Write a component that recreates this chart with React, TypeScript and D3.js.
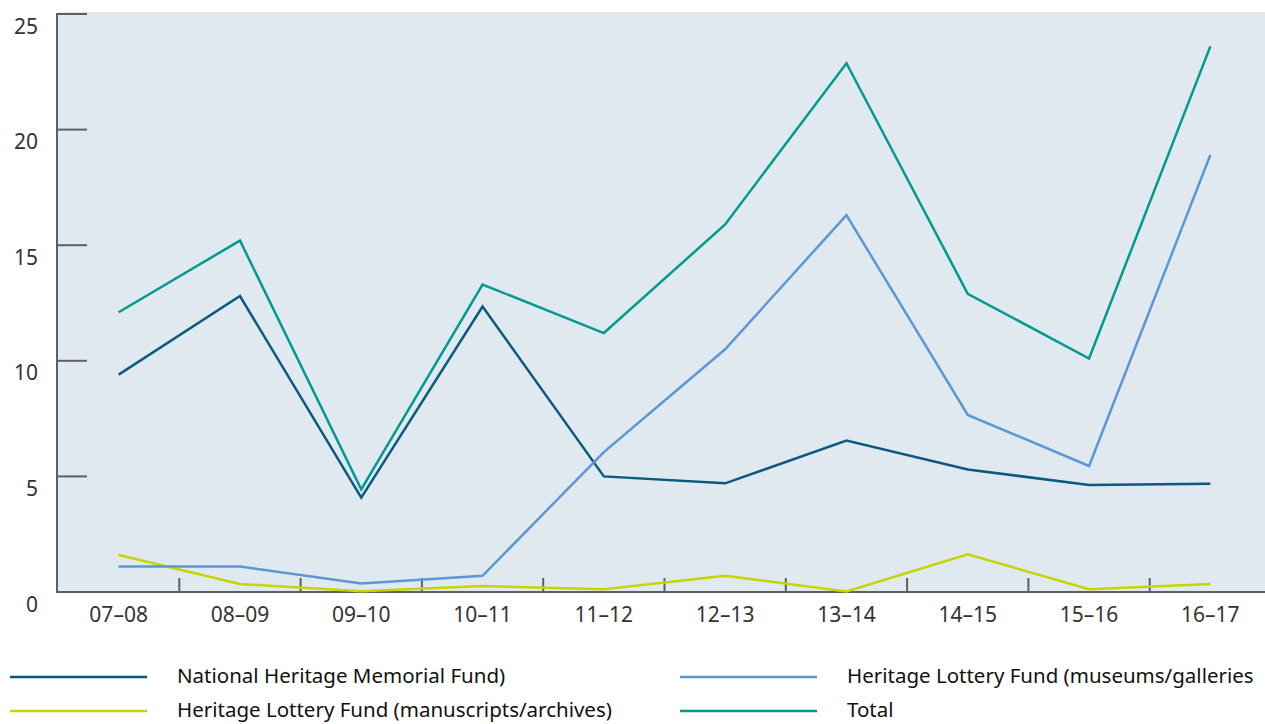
import React, { useRef, useEffect } from "react";
import * as d3 from "d3";

// Data
const years = ["07–08", "08–09", "09–10", "10–11", "11–12", "12–13", "13–14", "14–15", "15–16", "16–17"];
const nhmf = [9.4, 12.8, 4.08, 12.35, 5.0, 4.7, 6.55, 5.3, 4.63, 4.68];
const hlfManuscripts = [1.6, 0.35, 0.03, 0.26, 0.12, 0.7, 0.02, 1.63, 0.12, 0.35];
const hlfMuseums = [1.1, 1.1, 0.37, 0.7, 6.05, 10.5, 16.3, 7.66, 5.45, 18.9];
const total = [12.1, 15.2, 4.44, 13.3, 11.2, 15.9, 22.87, 12.9, 10.1, 23.6];
const yTicks = [0, 5, 10, 15, 20, 25];

const seriesList = [
  { name: "National Heritage Memorial Fund)", values: nhmf, color: "#0b5a7e" },
  { name: "Heritage Lottery Fund (manuscripts/archives)", values: hlfManuscripts, color: "#c6d400" },
  { name: "Heritage Lottery Fund (museums/galleries", values: hlfMuseums, color: "#5b97d3" },
  { name: "Total", values: total, color: "#009a90" },
];

const FONT = "'Noto Sans', sans-serif";

const LineChart = () => {
  const svgRef = useRef(null);

  useEffect(() => {
    const width = 1265;
    const height = 724;
    const left = 58;
    const top = 14;
    const bottom = 592;

    const svg = d3.select(svgRef.current).attr("width", width).attr("height", height);
    svg.selectAll("*").remove();

    // Scales
    const xScale = d3.scaleBand().domain(years).range([left, left + 121.3 * years.length]);
    const yScale = d3.scaleLinear().domain([0, 25]).range([bottom, top]);

    // Background
    svg
      .append("rect")
      .attr("x", left)
      .attr("y", top - 2)
      .attr("width", width - left)
      .attr("height", bottom - top + 2)
      .attr("fill", "#e1e9f0");

    // Y axis
    const yAxis = svg.append("g");
    yAxis
      .selectAll("line.tick")
      .data(yTicks)
      .join("line")
      .attr("class", "tick")
      .attr("x1", left - 1)
      .attr("x2", left + 29)
      .attr("y1", (d) => yScale(d))
      .attr("y2", (d) => yScale(d))
      .attr("stroke", "#5f5f5f")
      .attr("stroke-width", 2);
    yAxis
      .selectAll("text")
      .data(yTicks)
      .join("text")
      .attr("x", 38)
      .attr("y", (d) => yScale(d) + 14)
      .attr("text-anchor", "end")
      .attr("dominant-baseline", "middle")
      .attr("font-family", FONT)
      .attr("font-size", 21)
      .attr("fill", "#333")
      .text((d) => d);
    yAxis
      .append("line")
      .attr("x1", left - 1)
      .attr("x2", left - 1)
      .attr("y1", top - 1)
      .attr("y2", bottom + 1)
      .attr("stroke", "#5f5f5f")
      .attr("stroke-width", 2);

    // X axis
    const xAxis = svg.append("g");
    xAxis
      .append("line")
      .attr("x1", left - 2)
      .attr("x2", width)
      .attr("y1", bottom)
      .attr("y2", bottom)
      .attr("stroke", "#5f5f5f")
      .attr("stroke-width", 2);
    xAxis
      .selectAll("line.tick")
      .data(years.slice(1))
      .join("line")
      .attr("class", "tick")
      .attr("x1", (d) => xScale(d))
      .attr("x2", (d) => xScale(d))
      .attr("y1", bottom)
      .attr("y2", bottom - 14)
      .attr("stroke", "#5f5f5f")
      .attr("stroke-width", 2);
    xAxis
      .selectAll("text")
      .data(years)
      .join("text")
      .attr("x", (d) => xScale(d) + xScale.bandwidth() / 2)
      .attr("y", 616)
      .attr("text-anchor", "middle")
      .attr("dominant-baseline", "middle")
      .attr("font-family", FONT)
      .attr("font-size", 21)
      .attr("fill", "#333")
      .text((d) => d);

    // Lines
    const lineGenerator = d3
      .line()
      .x((d, i) => xScale(years[i]) + xScale.bandwidth() / 2)
      .y((d) => yScale(d));

    seriesList.forEach((s) => {
      svg
        .append("path")
        .datum(s.values)
        .attr("d", lineGenerator)
        .attr("fill", "none")
        .attr("stroke", s.color)
        .attr("stroke-width", 2.5)
        .attr("stroke-linejoin", "miter");
    });

    // Legend
    const legendPos = [
      { x: 10, y: 677 },
      { x: 10, y: 711 },
      { x: 680, y: 677 },
      { x: 680, y: 711 },
    ];
    seriesList.forEach((s, i) => {
      const p = legendPos[i];
      const g = svg.append("g").attr("transform", `translate(${p.x}, ${p.y})`);
      g.append("line")
        .attr("x1", 0)
        .attr("x2", 137)
        .attr("y1", 0)
        .attr("y2", 0)
        .attr("stroke", s.color)
        .attr("stroke-width", 2.5);
      g.append("text")
        .attr("x", 167)
        .attr("y", 0)
        .attr("dominant-baseline", "middle")
        .attr("font-family", FONT)
        .attr("font-size", 20.5)
        .attr("fill", "#111")
        .text(s.name);
    });
  }, []);

  return <svg ref={svgRef} style={{ display: "block", position: "absolute", left: 0, top: 0 }} />;
};

const App = () => {
  return (
    <div>
      <LineChart />
    </div>
  );
};

export default App;
